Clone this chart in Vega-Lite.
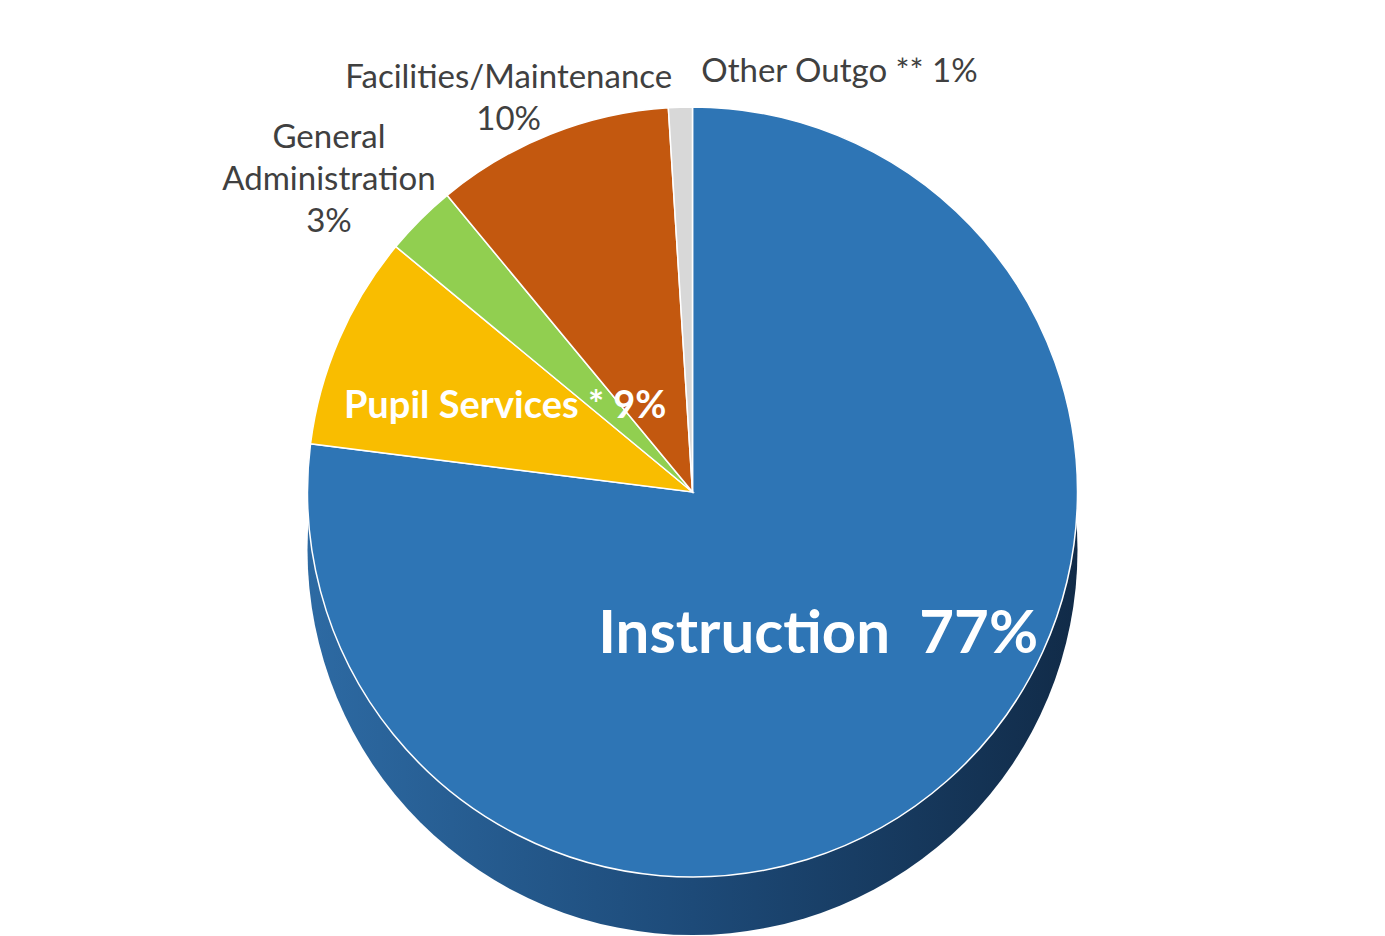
{
  "$schema": "https://vega.github.io/schema/vega-lite/v6.json",
  "width": 1385,
  "height": 936,
  "autosize": {"type": "fit", "contains": "padding"},
  "padding": 0,
  "background": "white",
  "config": {"view": {"stroke": null}},
  "data": {
    "values": [
      {"order": 1, "category": "Instruction", "value": 77, "label": "Instruction \u00a077%"},
      {"order": 2, "category": "Pupil Services", "value": 9, "label": "Pupil Services * 9%"},
      {"order": 3, "category": "General Administration", "value": 3, "label": "General\nAdministration\n3%"},
      {"order": 4, "category": "Facilities/Maintenance", "value": 10, "label": "Facilities/Maintenance\n10%"},
      {"order": 5, "category": "Other Outgo", "value": 1, "label": "Other Outgo ** 1%"}
    ]
  },
  "layer": [
    {
      "transform": [{"aggregate": [{"op": "sum", "field": "value", "as": "total"}]}],
      "mark": {
        "type": "arc",
        "radius": 385,
        "yOffset": 58,
        "color": {
          "gradient": "linear",
          "x1": 0, "y1": 0, "x2": 1, "y2": 0,
          "stops": [
            {"offset": 0, "color": "#2d6aa3"},
            {"offset": 0.5, "color": "#1d4a78"},
            {"offset": 1, "color": "#112b48"}
          ]
        }
      },
      "encoding": {
        "theta": {"field": "total", "type": "quantitative"}
      }
    },
    {
      "mark": {"type": "arc", "radius": 385, "stroke": "white", "strokeWidth": 1.5},
      "encoding": {
        "theta": {"field": "value", "type": "quantitative", "stack": true},
        "order": {"field": "order", "type": "ordinal"},
        "color": {
          "field": "category",
          "type": "nominal",
          "legend": null,
          "sort": ["Instruction", "Pupil Services", "General Administration", "Facilities/Maintenance", "Other Outgo"],
          "scale": {
            "domain": ["Instruction", "Pupil Services", "General Administration", "Facilities/Maintenance", "Other Outgo"],
            "range": ["#2e75b5", "#f9bd00", "#91cf50", "#c3580f", "#d8d8d8"]
          }
        }
      }
    },
    {
      "mark": {"type": "text", "radius": 190, "font": "Lato", "fontWeight": "bold", "fontSize": 60, "fill": "white", "align": "center", "baseline": "middle"},
      "encoding": {
        "theta": {"field": "value", "type": "quantitative", "stack": true},
        "order": {"field": "order", "type": "ordinal"},
        "text": {"condition": {"test": "datum.category === 'Instruction'", "field": "label"}, "value": ""}
      }
    },
    {
      "mark": {"type": "text", "radius": 215, "font": "Lato", "fontWeight": "bold", "fontSize": 38, "fill": "white", "align": "center", "baseline": "middle", "dx": 10},
      "encoding": {
        "theta": {"field": "value", "type": "quantitative", "stack": true},
        "order": {"field": "order", "type": "ordinal"},
        "text": {"condition": {"test": "datum.category === 'Pupil Services'", "field": "label"}, "value": ""}
      }
    },
    {
      "mark": {"type": "text", "radius": 500, "font": "Lato", "fontSize": 33, "fill": "#404040", "align": "center", "baseline": "middle", "lineBreak": "\n", "lineHeight": 42, "dx": -10},
      "encoding": {
        "theta": {"field": "value", "type": "quantitative", "stack": true},
        "order": {"field": "order", "type": "ordinal"},
        "text": {"condition": {"test": "datum.category === 'General Administration'", "field": "label"}, "value": ""}
      }
    },
    {
      "mark": {"type": "text", "radius": 445, "font": "Lato", "fontSize": 33, "fill": "#404040", "align": "center", "baseline": "middle", "lineBreak": "\n", "lineHeight": 42, "dx": -20},
      "encoding": {
        "theta": {"field": "value", "type": "quantitative", "stack": true},
        "order": {"field": "order", "type": "ordinal"},
        "text": {"condition": {"test": "datum.category === 'Facilities/Maintenance'", "field": "label"}, "value": ""}
      }
    },
    {
      "mark": {"type": "text", "radius": 420, "font": "Lato", "fontSize": 33, "fill": "#404040", "align": "left", "baseline": "middle", "dx": 22},
      "encoding": {
        "theta": {"field": "value", "type": "quantitative", "stack": true},
        "order": {"field": "order", "type": "ordinal"},
        "text": {"condition": {"test": "datum.category === 'Other Outgo'", "field": "label"}, "value": ""}
      }
    }
  ]
}
